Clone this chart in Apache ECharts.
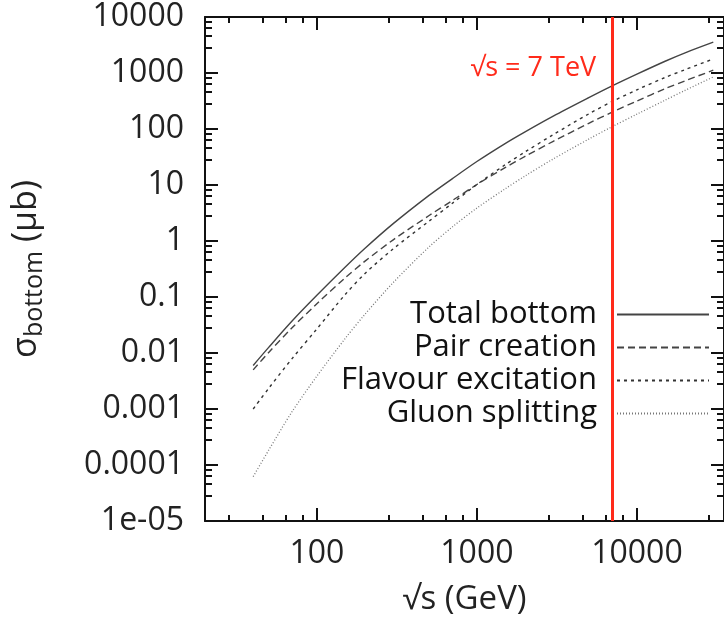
<!DOCTYPE html>
<html>
<head>
<meta charset="utf-8">
<script src="https://cdn.jsdelivr.net/npm/echarts@6/dist/echarts.min.js"></script>
<style>
html,body{margin:0;padding:0;background:#fff;}
#chart{width:724px;height:624px;}
</style>
</head>
<body>
<div id="chart"></div>
<script>
// sqrt(s) in GeV
const energies = [40, 50, 70, 100, 150, 200, 300, 500, 700, 1000, 1500, 2000, 3000, 5000, 7000, 10000, 15000, 20000, 30000];
// cross sections in microbarn
const totalBottom = [0.0060, 0.0126, 0.0372, 0.107, 0.339, 0.741, 2.04, 6.46, 12.9, 26.3, 55.0, 89.1, 170, 363, 589, 955, 1622, 2291, 3548];
const pairCreation = [0.0050, 0.0102, 0.0282, 0.0759, 0.219, 0.437, 1.05, 2.82, 5.25, 10.2, 20.4, 32.4, 60.3, 126, 200, 316, 525, 724, 1122];
const flavourExcitation = [0.0010, 0.00234, 0.00794, 0.0269, 0.110, 0.263, 0.724, 2.24, 4.68, 10.2, 22.9, 38.9, 79.4, 186, 309, 501, 832, 1148, 1778];
const gluonSplitting = [0.000062, 0.000184, 0.000895, 0.00386, 0.0180, 0.0493, 0.181, 0.774, 1.77, 3.87, 8.53, 14.5, 29.2, 66.1, 110, 184, 327, 490, 851];

const seriesNames = ['Total bottom', 'Pair creation', 'Flavour excitation', 'Gluon splitting'];
const xTickValues = [100, 1000, 10000];
const yTickValues = [1e-5, 1e-4, 1e-3, 0.01, 0.1, 1, 10, 100, 1000, 10000];
const yTickLabels = ['1e-05', '0.0001', '0.001', '0.01', '0.1', '1', '10', '100', '1000', '10000'];
const lhcEnergy = 7000;
const lhcLabel = '√s = 7 TeV';
const lhcLabelY = 1228;

const FONT = 'Open Sans';
const XMIN = 20, XMAX = 35000, YMIN = 1e-5, YMAX = 1e4;
const MAJOR = 13;

function pairs(ys) { return energies.map((x, i) => [x, ys[i]]); }

function xAx(pos, showLabel, withName) {
  const a = {
    type: 'log', min: XMIN, max: XMAX, position: pos,
    axisLine: { show: true, onZero: false, lineStyle: { color: '#111', width: 2 } },
    axisTick: { show: true, inside: true, length: MAJOR, lineStyle: { color: '#111', width: 2 } },
    minorTick: { show: true, length: 6, lineStyle: { color: '#111', width: 2 } },
    axisLabel: showLabel ? { show: true, customValues: xTickValues.slice(), margin: 17, fontFamily: FONT, fontSize: 32, color: '#222', formatter: v => String(Math.round(v)) } : { show: false },
    splitLine: { show: false }
  };
  if (withName) {
    a.name = '√s (GeV)'; a.nameLocation = 'middle'; a.nameGap = 62;
    a.nameTextStyle = { fontFamily: FONT, fontSize: 33, color: '#222' };
  }
  return a;
}
function yAx(pos, showLabel, withName) {
  const a = {
    type: 'log', min: YMIN, max: YMAX, interval: 1, position: pos,
    axisLine: { show: true, onZero: false, lineStyle: { color: '#111', width: 2 } },
    axisTick: { show: true, inside: true, length: MAJOR, lineStyle: { color: '#111', width: 2 } },
    minorTick: { show: true, length: 7, lineStyle: { color: '#111', width: 2 } },
    axisLabel: showLabel ? { show: true, customValues: yTickValues.slice(), margin: 21, fontFamily: FONT, fontSize: 32, color: '#222',
      formatter: v => { const k = Math.round(Math.log10(v)) + 5; return yTickLabels[k]; } } : { show: false },
    splitLine: { show: false }
  };
  if (withName) {
    a.name = '{m|σ}{s|bottom}{m| (μb)}'; a.nameLocation = 'middle'; a.nameRotate = 90; a.nameGap = 158;
    a.nameTextStyle = { fontFamily: FONT, color: '#222', rich: {
      m: { fontFamily: FONT, fontSize: 34, color: '#222' },
      s: { fontFamily: FONT, fontSize: 25, color: '#222', padding: [16, 0, 0, 0] } } };
  }
  return a;
}

const styles = [
  { color: '#444', width: 1.4, type: 'solid' },
  { color: '#444', width: 1.4, type: [7, 4] },
  { color: '#333', width: 1.4, type: [3, 4] },
  { color: '#777', width: 1.3, type: [1, 2] }
];
const dataSets = [totalBottom, pairCreation, flavourExcitation, gluonSplitting];

function buildOption(variant) {
  const useMarkers = variant < 1;
  const axisNames = variant < 2;
  const series = dataSets.map((d, i) => ({
    name: seriesNames[i], type: 'line', xAxisIndex: 0, yAxisIndex: 0,
    data: pairs(d), showSymbol: false, symbol: 'none', smooth: 0.3,
    lineStyle: styles[i], itemStyle: { color: styles[i].color }, z: 3
  }));
  if (useMarkers) {
    series[0].markLine = {
      silent: true, symbol: 'none', animation: false,
      lineStyle: { color: '#ff2a1a', width: 3, type: 'solid' }, label: { show: false },
      data: [{ xAxis: lhcEnergy }]
    };
    series[0].markPoint = {
      silent: true, symbol: 'circle', symbolSize: 0,
      label: { show: true, position: 'left', distance: 16, formatter: lhcLabel, fontFamily: FONT, fontSize: 27, color: '#ff2a1a' },
      data: [{ coord: [lhcEnergy, lhcLabelY] }]
    };
  } else {
    series.push({ name: 'lhc', type: 'line', data: [[lhcEnergy, YMIN], [lhcEnergy, YMAX]], showSymbol: false, symbol: 'none',
      lineStyle: { color: '#ff2a1a', width: 3 }, itemStyle: { color: '#ff2a1a' }, z: 4, silent: true });
    series.push({ name: 'lhcLabel', type: 'scatter', data: [[lhcEnergy, lhcLabelY]], symbolSize: 0, silent: true,
      label: { show: true, position: 'left', distance: 16, formatter: lhcLabel, fontFamily: FONT, fontSize: 27, color: '#ff2a1a' } });
  }
  const legends = seriesNames.map((n, i) => ({
    data: [n], orient: 'vertical', align: 'right', right: 14, top: 299 + i * 33,
    itemWidth: 92, itemHeight: 14, itemGap: 0, padding: 0, selectedMode: false,
    itemStyle: { color: 'rgba(0,0,0,0)', borderColor: 'rgba(0,0,0,0)', borderWidth: 0, opacity: 0 },
    textStyle: { fontFamily: FONT, fontSize: 31, color: '#111', padding: [0, 15, 0, 0] }
  }));
  const graphic = [];
  if (!axisNames) {
    graphic.push({ type: 'text', left: 'center', top: 583, style: { text: '√s (GeV)', x: 0, fontFamily: FONT, fontSize: 33, fill: '#222' }, x: 0 });
    graphic.push({ type: 'text', x: 48, y: 272, rotation: Math.PI / 2, style: { text: '{m|σ}{s|bottom}{m| (μb)}', align: 'center', verticalAlign: 'middle',
      rich: { m: { fontFamily: FONT, fontSize: 34, fill: '#222' }, s: { fontFamily: FONT, fontSize: 25, fill: '#222', padding: [16, 0, 0, 0] } } } });
  }
  return {
    animation: false,
    backgroundColor: '#fff',
    grid: { left: 205, top: 17, right: 0, bottom: 103, containLabel: false, outerBoundsMode: 'none' },
    legend: legends,
    xAxis: [xAx('bottom', true, axisNames), xAx('top', false, false)],
    yAxis: [yAx('left', true, axisNames), yAx('right', false, false)],
    graphic: graphic,
    series: series
  };
}

const chart = echarts.init(document.getElementById('chart'), null, { renderer: 'canvas' });

function majorTickCount() {
  const list = chart.getZr().storage.getDisplayList(true);
  let n = 0;
  list.forEach(el => {
    if (el.type === 'line' && el.shape && !el.ignore && !el.invisible) {
      const dx = Math.abs(el.shape.x2 - el.shape.x1), dy = Math.abs(el.shape.y2 - el.shape.y1);
      if ((dx < 1 && Math.abs(dy - MAJOR) < 1.5) || (dy < 1 && Math.abs(dx - MAJOR) < 1.5)) n++;
    }
  });
  return n;
}

let variant = 0;
let opt = buildOption(variant);
chart.setOption(opt, true);
while (majorTickCount() < 6 && variant < 2) {
  variant++;
  opt = buildOption(variant);
  chart.setOption(opt, true);
}
if (majorTickCount() < 6) {
  // last resort: place the decade ticks through the axes' own scales
  const yb = chart.convertToPixel({ yAxisIndex: 0 }, YMIN), yt = chart.convertToPixel({ yAxisIndex: 0 }, YMAX);
  const xl = chart.convertToPixel({ xAxisIndex: 0 }, XMIN), xr = chart.convertToPixel({ xAxisIndex: 0 }, XMAX);
  const g = (opt.graphic || []).slice();
  const st = { stroke: '#111', lineWidth: 2 };
  xTickValues.forEach(v => {
    const x = Math.round(chart.convertToPixel({ xAxisIndex: 0 }, v)) + 0.5;
    g.push({ type: 'line', silent: true, shape: { x1: x, y1: yb, x2: x, y2: yb - MAJOR }, style: st });
    g.push({ type: 'line', silent: true, shape: { x1: x, y1: yt, x2: x, y2: yt + MAJOR }, style: st });
  });
  yTickValues.forEach(v => {
    const y = Math.round(chart.convertToPixel({ yAxisIndex: 0 }, v)) + 0.5;
    g.push({ type: 'line', silent: true, shape: { x1: xl, y1: y, x2: xl + MAJOR, y2: y }, style: st });
    g.push({ type: 'line', silent: true, shape: { x1: xr, y1: y, x2: xr - MAJOR, y2: y }, style: st });
  });
  chart.setOption({ graphic: g });
}
</script>
</body>
</html>
